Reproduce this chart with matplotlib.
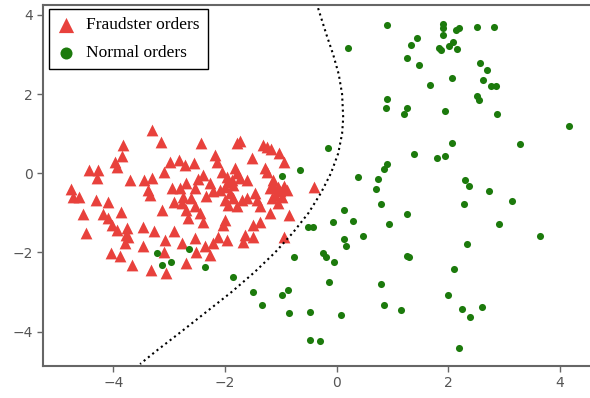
import matplotlib
matplotlib.use("Agg")
import matplotlib.pyplot as plt
import numpy as np

# fraudster orders (red triangles)
fraud_x = [
    -3.30, -3.15, -3.83, -2.42, -1.79, -1.73, -1.31, -1.25, -1.18, -1.03,
    -3.85, -3.97, -3.93, -4.43, -4.27, -4.29, -2.18, -2.15, -1.52, -0.95,
    -2.98, -2.82, -2.72, -2.55, -3.10, -3.70, -3.45, -3.31, -2.39, -2.48,
    -2.06, -1.97, -1.88, -1.82, -1.79, -1.73, -1.28, -1.25, -1.61, -4.76,
    -4.72, -4.61, -4.31, -4.09, -3.86, -4.55, -4.49, -4.18, -4.09, -4.03,
    -3.94, -3.75, -3.77, -3.79, -3.73, -3.47, -3.27, -3.37, -3.34, -2.95,
    -2.80, -2.69, -2.54, -2.34, -3.13, -2.92, -2.77, -2.69, -2.60, -2.54,
    -2.45, -2.21, -2.09, -2.00, -1.91, -2.00, -1.94, -1.85, -1.79, -1.70,
    -1.61, -1.46, -1.37, -1.19, -1.13, -1.04, -0.95, -0.89, -1.10, -0.98,
    -1.16, -1.04, -0.86, -1.19, -1.49, -1.37, -2.00, -2.03, -1.64, -1.49,
    -1.67, -1.97, -2.12, -2.21, -2.36, -2.54, -2.51, -2.77, -2.92, -3.07,
    -3.09, -3.46, -4.05, -3.88, -3.66, -3.33, -3.06, -2.69, -2.27, -0.95,
    -0.40, -2.66, -2.39, -1.94, -1.85, -2.75, -2.27, -1.13, -1.01, -1.43,
]
fraud_y = [
    1.09, 0.80, 0.71, 0.77, 0.76, 0.82, 0.71, 0.66, 0.61, 0.52,
    0.44, 0.29, 0.17, 0.08, 0.08, -0.13, 0.46, 0.29, 0.38, 0.29,
    0.29, 0.34, 0.21, 0.27, 0.04, -0.17, -0.17, -0.13, -0.04, -0.15,
    0.04, -0.09, -0.17, 0.13, 0.00, -0.13, 0.13, 0.04, -0.17, -0.40,
    -0.59, -0.59, -0.67, -0.72, -0.99, -1.03, -1.50, -1.03, -1.14, -1.30,
    -1.43, -1.39, -1.56, -1.77, -1.60, -1.35, -1.46, -0.42, -0.55, -0.38,
    -0.38, -0.25, -0.38, -0.57, -0.93, -0.72, -0.76, -0.93, -0.63, -0.84,
    -1.01, -0.46, -0.42, -0.34, -0.51, -0.67, -0.80, -0.63, -0.84, -0.67,
    -0.63, -0.51, -0.84, -0.38, -0.32, -0.35, -0.32, -0.42, -0.55, -0.59,
    -0.63, -0.76, -1.05, -1.01, -1.31, -1.22, -1.18, -1.31, -1.56, -1.60,
    -1.73, -1.68, -1.60, -1.77, -1.85, -1.64, -1.98, -1.77, -1.47, -1.68,
    -1.98, -1.85, -2.02, -2.10, -2.31, -2.44, -2.53, -2.27, -2.06, -1.60,
    -0.34, -1.14, -1.22, -0.21, -0.30, -0.59, -0.25, -0.17, -0.46, -0.67,
]

# normal orders (green dots)
normal_x = [
    0.91, 0.20, 1.45, 1.33, 1.27, 1.48, 1.68, 0.91, 0.88, 1.27,
    1.21, -0.15, 1.39, -0.65, -0.98, 0.91, 0.85, 0.38, 0.74, 0.71,
    1.90, 1.90, 1.90, 2.14, 2.20, 2.52, 2.82, 1.84, 1.87, 2.02,
    2.09, 2.16, 2.57, 2.70, 2.07, 2.63, 2.76, 2.85, 2.51, 2.55,
    1.95, 2.88, 4.17, 2.07, 3.28, 1.80, 1.95, 2.30, 2.37, 2.73,
    0.79, 0.14, -0.07, 0.29, 1.27, 0.94, -0.51, -0.42, 0.47, 0.14,
    0.17, -0.25, -0.19, -0.04, 1.27, 1.30, -0.13, 0.79, 2.00, -0.48,
    0.08, 0.85, 1.15, -0.48, -0.30, 2.28, 3.14, 2.91, 3.65, 2.34,
    2.10, 2.25, 2.40, 2.61, 2.19, -3.21, -2.64, -3.12, -2.97, -2.35,
    -1.85, -1.49, -1.34, -0.98, -0.87, -0.85, -0.76,
]
normal_y = [
    3.74, 3.17, 3.42, 3.25, 2.91, 2.74, 2.24, 1.87, 1.66, 1.66,
    1.49, 0.65, 0.48, 0.07, -0.06, 0.23, 0.11, -0.10, -0.14, -0.40,
    3.76, 3.68, 3.49, 3.62, 3.66, 3.70, 3.70, 3.16, 3.11, 3.22,
    3.32, 3.13, 2.79, 2.62, 2.41, 2.36, 2.20, 2.20, 1.96, 1.86,
    1.57, 1.49, 1.19, 0.77, 0.73, 0.39, 0.44, -0.17, -0.31, -0.44,
    -0.78, -0.94, -1.24, -1.20, -1.03, -1.28, -1.36, -1.36, -1.58, -1.66,
    -1.83, -2.02, -2.11, -2.24, -2.08, -2.12, -2.74, -2.79, -3.08, -3.50,
    -3.58, -3.33, -3.46, -4.21, -4.25, -0.78, -0.69, -1.28, -1.58, -1.78,
    -2.41, -3.42, -3.62, -3.38, -4.42, -2.02, -1.91, -2.32, -2.23, -2.37,
    -2.63, -2.99, -3.33, -3.08, -2.95, -3.54, -2.11,
]

# decision boundary
boundary_x = [-0.33, -0.18, -0.06, 0.04, 0.10, 0.12, 0.10, 0.03, -0.10,
              -0.28, -0.50, -0.78, -1.10, -1.47, -1.88, -2.33, -2.78,
              -3.24, -3.52]
boundary_y = [4.17, 3.5, 3.0, 2.5, 2.0, 1.4, 1.0, 0.5, 0.0,
              -0.5, -1.0, -1.5, -2.0, -2.5, -3.0, -3.5, -4.0,
              -4.5, -4.82]

RED = "#e8413c"
GREEN = "#1c7a0c"
AXIS_GRAY = "#666666"

fig = plt.figure(figsize=(5.9, 3.98), dpi=100)
ax = fig.add_axes([0.0729, 0.0804, 0.9325, 0.907])

ax.scatter(fraud_x, fraud_y, marker="^", s=72, color=RED, linewidths=0,
           label="Fraudster orders", zorder=2)
ax.scatter(normal_x, normal_y, marker="o", s=26, color=GREEN, linewidths=0,
           label="Normal orders", zorder=3)
ax.plot(boundary_x, boundary_y, color="black", linestyle=":", linewidth=1.5, zorder=4)

ax.set_xlim(-5.26, 4.6)
ax.set_ylim(-4.87, 4.25)
ax.set_xticks([-4, -2, 0, 2, 4])
ax.set_yticks([-4, -2, 0, 2, 4])

for side in ("left", "bottom", "top"):
    ax.spines[side].set_color(AXIS_GRAY)
    ax.spines[side].set_linewidth(1.5)
ax.spines["right"].set_visible(False)
ax.tick_params(colors=AXIS_GRAY, labelcolor="#555555", labelsize=10, length=4, width=1)

leg = ax.legend(loc="upper left", bbox_to_anchor=(0.083, 0.977),
                bbox_transform=fig.transFigure, borderaxespad=0,
                prop={"family": "Liberation Serif", "size": 12.5},
                fancybox=False, edgecolor="black", framealpha=1,
                handlelength=1.1, handletextpad=0.6, labelspacing=0.7,
                borderpad=0.45)
leg.get_frame().set_linewidth(1.0)
leg.legend_handles[0].set_sizes([120])
leg.legend_handles[1].set_sizes([75])

fig.savefig("out.png", dpi=100)
